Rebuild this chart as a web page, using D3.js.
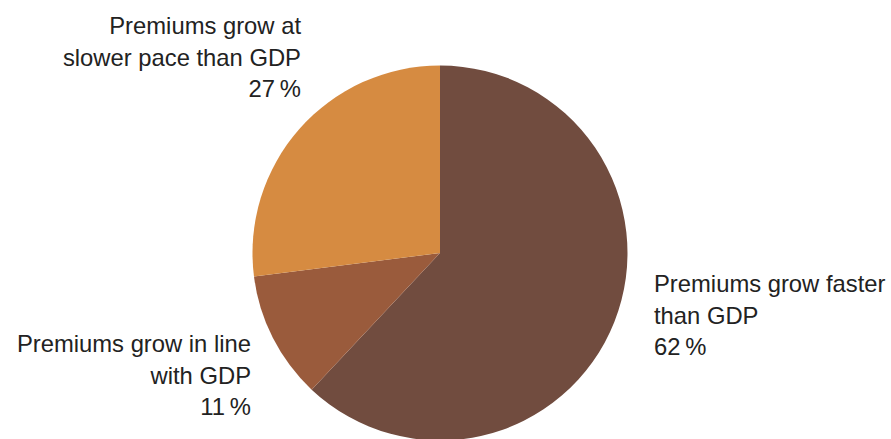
<!DOCTYPE html>
<html>
<head>
<meta charset="utf-8">
<script src="https://cdn.jsdelivr.net/npm/d3@7"></script>
<style>
  html, body { margin: 0; padding: 0; background: #fff; }
  svg { display: block; }
  text { font-family: "Liberation Sans", Arial, sans-serif; font-size: 23.8px; fill: #222; }
</style>
</head>
<body>
<svg id="chart" width="891" height="439"></svg>
<script>
// Share of responses, drawn clockwise from 12 o'clock
const categories = [
  "Premiums grow faster than GDP",
  "Premiums grow in line with GDP",
  "Premiums grow at slower pace than GDP"
];
const shares = [62, 11, 27];
const colors = ["#714C3F", "#9A5B3C", "#D68B41"];

// Label lines per slice, with placement
const labelLines = [
  ["Premiums grow faster", "than GDP"],
  ["Premiums grow in line", "with GDP"],
  ["Premiums grow at", "slower pace than GDP"]
];
const labelPos = [
  { x: 654, y: 292, anchor: "start" },
  { x: 251, y: 352, anchor: "end" },
  { x: 301, y: 34, anchor: "end" }
];

const svg = d3.select("#chart");
const cx = 440, cy = 253, r = 187.5;

const pie = d3.pie().sort(null).value(d => d);
const arc = d3.arc().innerRadius(0).outerRadius(r);

const g = svg.append("g").attr("transform", `translate(${cx},${cy})`);
g.selectAll("path")
  .data(pie(shares))
  .join("path")
  .attr("d", arc)
  .attr("fill", (d, i) => colors[i]);

const lineH = 31.5;
labelPos.forEach((p, i) => {
  const t = svg.append("text")
    .attr("x", p.x).attr("y", p.y)
    .attr("text-anchor", p.anchor);
  const lines = labelLines[i].concat([shares[i] + "\u2009%"]);
  lines.forEach((ln, j) => {
    t.append("tspan")
      .attr("x", p.x)
      .attr("y", p.y + j * lineH)
      .text(ln);
  });
});
</script>
</body>
</html>
